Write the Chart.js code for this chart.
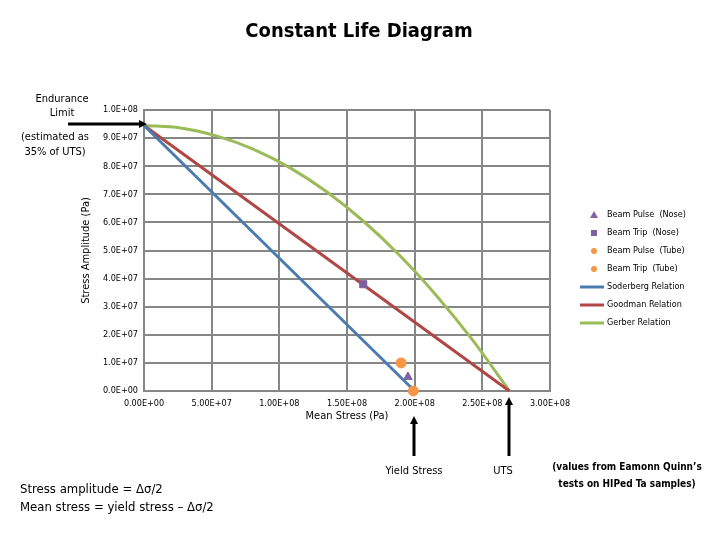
<!DOCTYPE html>
<html>
<head>
<meta charset="utf-8">
<script src="https://cdn.jsdelivr.net/npm/chart.js@4.4.0/dist/chart.umd.min.js"></script>
<style>
  html, body { margin: 0; background: #fff; }
  #wrap { width: 720px; height: 540px; }
</style>
</head>
<body>
<div id="wrap"><canvas id="chart"></canvas></div>
<script>
// =====================
// Data
// =====================
const soderbergX = [0, 2.0e8];
const soderbergY = [9.45e7, 0];
const goodmanX = [0, 2.7e8];
const goodmanY = [9.45e7, 0];
const gerberX = [0, 2.7e7, 5.4e7, 8.1e7, 1.08e8, 1.35e8, 1.62e8, 1.89e8, 2.16e8, 2.43e8, 2.7e8];
const gerberY = [9.45e7, 9.36e7, 9.07e7, 8.60e7, 7.94e7, 7.09e7, 6.05e7, 4.82e7, 3.40e7, 1.80e7, 0];

const pulseNoseX = [1.95e8], pulseNoseY = [5.0e6];
const tripNoseX = [1.62e8], tripNoseY = [3.8e7];
const pulseTubeX = [1.90e8], pulseTubeY = [1.0e7];
const tripTubeX = [1.99e8], tripTubeY = [0];

const seriesLabels = ['Beam Pulse  (Nose)', 'Beam Trip  (Nose)', 'Beam Pulse  (Tube)', 'Beam Trip  (Tube)',
  'Soderberg Relation', 'Goodman Relation', 'Gerber Relation'];

const FONT = "'Liberation Sans Narrow', 'DejaVu Sans Condensed', 'Liberation Sans', sans-serif";

const pts = (xs, ys) => xs.map((x, i) => ({ x, y: ys[i] }));

// 1.0E+07 style labels
function sci(v, digits) {
  const [m, e] = Number(v).toExponential(digits).split('e');
  const n = Math.abs(parseInt(e, 10));
  return m.toUpperCase() + 'E' + (parseInt(e, 10) < 0 ? '-' : '+') + String(n).padStart(2, '0');
}

function marker(label, data, style, color) {
  return { label, data: data, showLine: false, pointStyle: style, pointRadius: 5,
    backgroundColor: color, borderColor: color, clip: false };
}
function relation(label, data, color) {
  return { label, data: data, showLine: true, pointRadius: 0, borderWidth: 3,
    borderColor: color, backgroundColor: color, cubicInterpolationMode: 'monotone', clip: false };
}

// =====================
// Title, legend + annotations drawn on top
// =====================
function arrow(ctx, x1, y1, x2, y2) {
  const a = Math.atan2(y2 - y1, x2 - x1), h = 8;
  ctx.beginPath();
  ctx.moveTo(x1, y1);
  ctx.lineTo(x2 - Math.cos(a) * h * 0.8, y2 - Math.sin(a) * h * 0.8);
  ctx.stroke();
  ctx.beginPath();
  ctx.moveTo(x2, y2);
  ctx.lineTo(x2 - h * Math.cos(a) + 4 * Math.sin(a), y2 - h * Math.sin(a) - 4 * Math.cos(a));
  ctx.lineTo(x2 - h * Math.cos(a) - 4 * Math.sin(a), y2 - h * Math.sin(a) + 4 * Math.cos(a));
  ctx.closePath();
  ctx.fill();
}

const sidePlugin = {
  id: 'side',
  afterDraw(chart) {
    const ctx = chart.ctx;
    ctx.save();

    // title (centred on the page, not on the plot)
    ctx.fillStyle = '#000';
    ctx.textAlign = 'center';
    ctx.textBaseline = 'middle';
    ctx.font = 'bold 20px ' + FONT;
    ctx.fillText('Constant Life Diagram', 359, 32);

    // legend
    chart.data.datasets.forEach((ds, i) => {
      const y = 215 + i * 18;
      ctx.fillStyle = ds.backgroundColor;
      ctx.strokeStyle = ds.borderColor;
      if (ds.showLine) {
        ctx.lineWidth = 3;
        ctx.beginPath(); ctx.moveTo(580, y); ctx.lineTo(604, y); ctx.stroke();
      } else if (ds.pointStyle === 'triangle') {
        ctx.beginPath(); ctx.moveTo(594, y - 4); ctx.lineTo(598, y + 3); ctx.lineTo(590, y + 3); ctx.closePath(); ctx.fill();
      } else if (ds.pointStyle === 'rect') {
        ctx.fillRect(591, y - 3, 6, 6);
      } else {
        ctx.beginPath(); ctx.arc(594, y, 3, 0, Math.PI * 2); ctx.fill();
      }
      ctx.fillStyle = '#000';
      ctx.font = '9px ' + FONT;
      ctx.textAlign = 'left';
      ctx.textBaseline = 'middle';
      ctx.fillText(ds.label, 607, y);
    });

    // annotations
    ctx.fillStyle = '#000';
    ctx.strokeStyle = '#000';
    ctx.lineWidth = 3;
    ctx.textAlign = 'center';
    ctx.textBaseline = 'middle';
    ctx.font = '11px ' + FONT;
    ctx.fillText('Endurance', 62, 99);
    ctx.fillText('Limit', 62, 113);
    ctx.fillText('(estimated as', 55, 137);
    ctx.fillText('35% of UTS)', 55, 152);
    arrow(ctx, 68, 124, 147, 124);

    arrow(ctx, 414, 456, 414, 416);
    arrow(ctx, 509, 456, 509, 397);
    ctx.fillText('Yield Stress', 414, 471);
    ctx.fillText('UTS', 503, 471);

    ctx.font = 'bold 10px ' + FONT;
    ctx.fillText('(values from Eamonn Quinn\u2019s', 627, 467);
    ctx.fillText('tests on HIPed Ta samples)', 627, 484);

    ctx.textAlign = 'left';
    ctx.font = '13px ' + FONT;
    ctx.fillText('Stress amplitude = \u0394\u03c3/2', 20, 490);
    ctx.fillText('Mean stress = yield stress \u2013 \u0394\u03c3/2', 20, 508);
    ctx.restore();
  }
};

// =====================
// Chart
// =====================
const gridCol = '#868686';

new Chart(document.getElementById('chart'), {
  type: 'scatter',
  data: {
    datasets: [
      marker(seriesLabels[0], pts(pulseNoseX, pulseNoseY), 'triangle', '#8064a2'),
      marker(seriesLabels[1], pts(tripNoseX, tripNoseY), 'rect', '#7f5f9e'),
      marker(seriesLabels[2], pts(pulseTubeX, pulseTubeY), 'circle', '#f79646'),
      marker(seriesLabels[3], pts(tripTubeX, tripTubeY), 'circle', '#f79646'),
      relation(seriesLabels[4], pts(soderbergX, soderbergY), '#4a7cb0'),
      relation(seriesLabels[5], pts(goodmanX, goodmanY), '#b04745'),
      relation(seriesLabels[6], pts(gerberX, gerberY), '#9bbb59')
    ]
  },
  options: {
    responsive: true,
    maintainAspectRatio: false,
    animation: false,
    layout: { padding: { left: 76, right: 170, top: 110, bottom: 113 } },
    plugins: {
      legend: { display: false },
      tooltip: { enabled: false },
      title: { display: false }
    },
    scales: {
      x: {
        type: 'linear', min: 0, max: 3e8,
        afterFit: s => { s.height = 36; },
        ticks: { stepSize: 5e7, color: '#000', padding: 7, maxRotation: 0,
          font: { family: FONT, size: 9 }, callback: v => sci(v, 2) },
        grid: { color: gridCol, lineWidth: 2, drawTicks: false },
        border: { color: gridCol, width: 2 },
        title: { display: true, text: 'Mean Stress (Pa)', color: '#000',
          font: { family: FONT, size: 11 } }
      },
      y: {
        type: 'linear', min: 0, max: 1e8,
        afterFit: s => { s.width = 68; },
        ticks: { stepSize: 1e7, color: '#000', padding: 6,
          font: { family: FONT, size: 9 }, callback: v => sci(v, 1) },
        grid: { color: gridCol, lineWidth: 2, drawTicks: false },
        border: { color: gridCol, width: 2 },
        title: { display: true, text: 'Stress Amplitude (Pa)', color: '#000',
          font: { family: FONT, size: 11 } }
      }
    }
  },
  plugins: [sidePlugin]
});
</script>
</body>
</html>
